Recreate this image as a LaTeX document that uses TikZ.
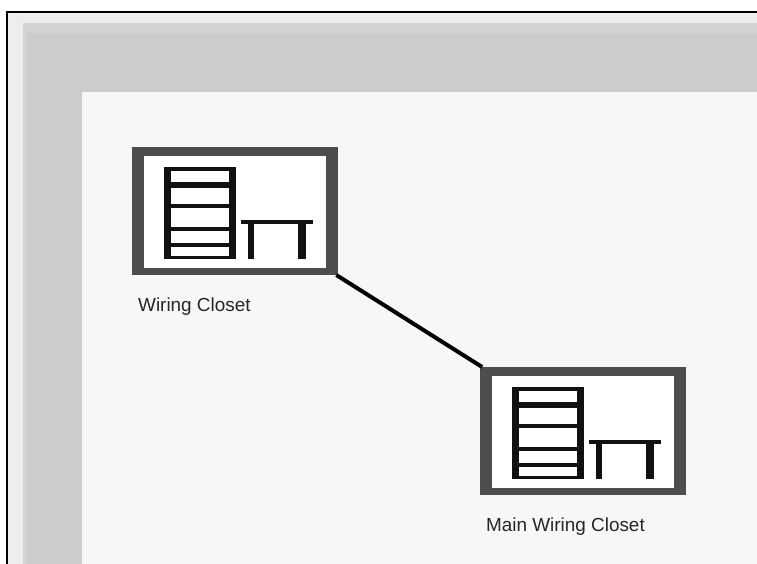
\documentclass[tikz,border=0pt]{standalone}
\usepackage{fontspec}
\setmainfont{Liberation Sans}
\definecolor{framegray}{HTML}{EEEEEE}
\definecolor{edgegray}{HTML}{D3D3D3}
\definecolor{bandgray}{HTML}{CCCCCC}
\definecolor{floorgray}{HTML}{F7F7F7}
\definecolor{boxgray}{HTML}{4D4D4D}
\definecolor{rackblack}{HTML}{111111}
\tikzset{
  closetbox/.style={rectangle,draw=none,fill=boxgray,minimum width=206pt,minimum height=128pt,inner sep=0pt,outer sep=0pt},
  closetlabel/.style={anchor=base west,inner sep=0pt,text=black!85,font=\fontsize{18.9}{20}\selectfont},
  closeticon/.pic={
    %white inside of the box
    \fill [white] (-91,-55) rectangle (91,57);
    %Rack
    \fill [rackblack] (-71,-44) rectangle (1,48);
    \fill [white] (-64,-40) rectangle (-6,45);
    \foreach \y/\h in {-29/6,-7/4,16/4,32/4}
      \fill [rackblack] (-64,\y) rectangle (-6,\y+\h);
    %Table
    \fill [rackblack] (6,9) rectangle (78,13);
    \fill [rackblack] (13,13) rectangle (19,48);
    \fill [rackblack] (63,13) rectangle (71,48);
  }
}

\begin{document}
\begin{tikzpicture}[x=1pt,y=1pt,yscale=-1,xscale=1]
\useasboundingbox (0,0) rectangle (757,564);

%Window
\fill [white] (0,0) rectangle (757,564);
\fill [framegray] (7,12) rectangle (757,564);
\fill [edgegray] (23,23) rectangle (757,564);
\fill [bandgray] (27,33) rectangle (757,564);
\fill [floorgray] (82,92) rectangle (757,564);
\draw [black,line width=1.5] (7,564) -- (7,12) -- (757,12);

%Closets
\node [closetbox] (wiringcloset) at (235,211) {};
\node [closetbox] (maincloset) at (583,431) {};

%Link
\draw [black,line width=4] (wiringcloset) -- (maincloset);

\pic [yscale=-1] at (235,211) {closeticon};
\pic [yscale=-1] at (583,431) {closeticon};

\node [closetlabel] (wiringlabel) at (138,311) {Wiring Closet};
\node [closetlabel] (mainlabel) at (486,531) {Main Wiring Closet};

\end{tikzpicture}
\end{document}
